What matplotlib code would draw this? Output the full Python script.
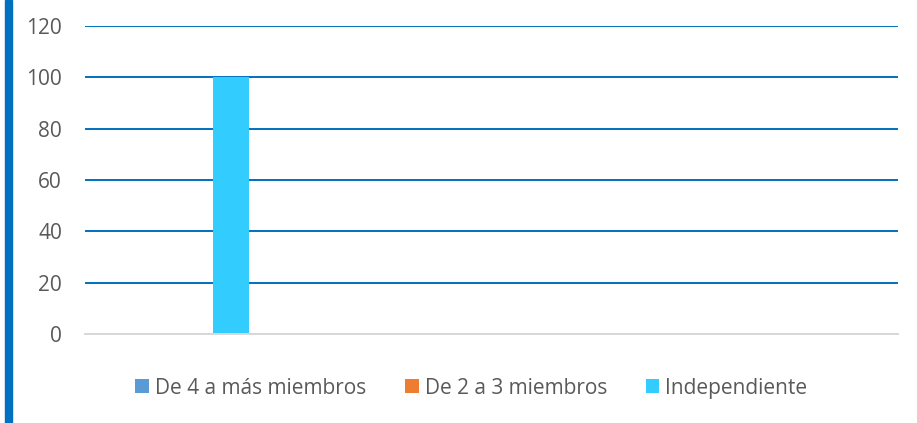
import numpy as np
import matplotlib
matplotlib.use("Agg")
import matplotlib.pyplot as plt
from matplotlib.patches import Rectangle

plt.rcParams['font.family'] = ['Open Sans', 'DejaVu Sans']

# datos
series = ["De 4 a más miembros", "De 2 a 3 miembros", "Independiente"]
values = [0, 0, 100]
colors = ["#5B9BD5", "#ED7D31", "#33CCFF"]
yticks = [0, 20, 40, 60, 80, 100, 120]

fig = plt.figure(figsize=(9.17, 4.23), dpi=100)
ax = fig.add_axes([85 / 917, 89 / 423, 813 / 917, 308 / 423])

# barras agrupadas (una sola categoría)
x = np.arange(len(series)) - 1
for xi, v, c, s in zip(x, values, colors, series):
    ax.bar(xi, v, width=1.0, color=c, label=s, zorder=3)

ax.set_xlim(-3.06, 19.52)
ax.set_ylim(0, 120)
ax.set_yticks(yticks)
ax.set_xticks([])
ax.yaxis.grid(True, color="#0070C0", linewidth=1.4, zorder=0)
ax.tick_params(axis="y", length=0, pad=16.5, labelsize=15, labelcolor="#595959")
for sp in ["top", "right", "left"]:
    ax.spines[sp].set_visible(False)
ax.spines["bottom"].set_color("#D9D9D9")
ax.spines["bottom"].set_linewidth(1.4)
ax.spines["bottom"].set_zorder(4)

leg = fig.legend(loc="center", bbox_to_anchor=(471.5 / 917, 1 - 388 / 423), ncol=3,
                 frameon=False, fontsize=15, handlelength=0.65, handleheight=0.65,
                 handletextpad=0.3, columnspacing=1.85)
for t in leg.get_texts():
    t.set_color("#595959")

# borde azul a la izquierda
fig.patches.append(Rectangle((5 / 917, 0), 7 / 917, 1, transform=fig.transFigure,
                             color="#0070C0", zorder=5))

fig.savefig("out.png", dpi=100)
